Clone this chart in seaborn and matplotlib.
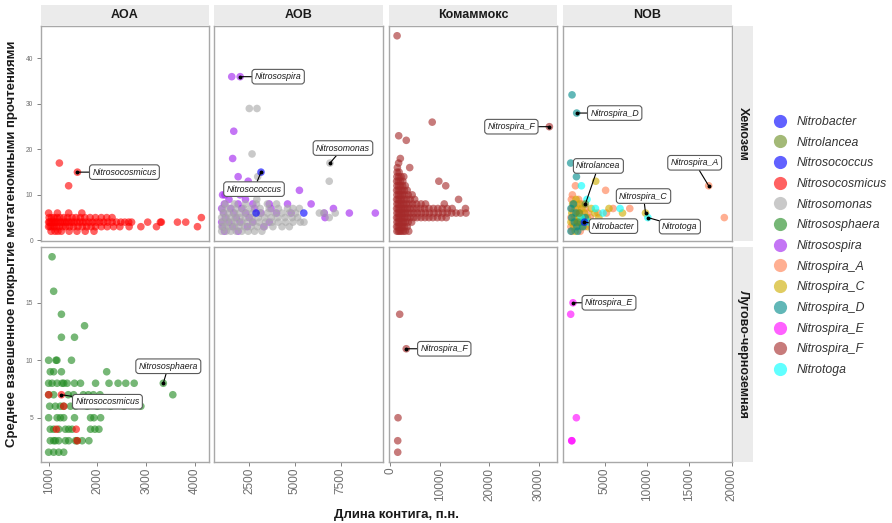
import matplotlib
matplotlib.use("Agg")
import matplotlib.pyplot as plt
import pandas as pd
import seaborn as sns
from matplotlib.lines import Line2D
from matplotlib.patches import Rectangle
from matplotlib.ticker import MultipleLocator, FuncFormatter

sns.set_theme(style="white")
plt.rcParams["font.family"] = ["Liberation Sans", "DejaVu Sans"]

soils = ["Хемозем", "Лугово-черноземная"]
groups = ["AOA", "AOB", "Комаммокс", "NOB"]
genera = ["Nitrobacter", "Nitrolancea", "Nitrosococcus", "Nitrosocosmicus",
          "Nitrosomonas", "Nitrososphaera", "Nitrosospira", "Nitrospira_A",
          "Nitrospira_C", "Nitrospira_D", "Nitrospira_E", "Nitrospira_F", "Nitrotoga"]
genus_colors = ["#0000ff", "#6b8e23", "#0000ff", "#ff0000", "#a9a9a9", "#228b22",
                "#a020f0", "#ff7f50", "#cdad00", "#008b8b", "#ff00ff", "#a52a2a", "#00ffff"]

# contigs: mean coverage -> list of contig lengths (bp)
chem_aoa_nitrosocosmicus = {
    2: [1050, 1130, 1190, 1260, 1420, 1580, 1750, 1930],
    3: [1000, 1030, 1070, 1110, 1160, 1220, 1290, 1350, 1430, 1510, 1600, 1690, 1780,
        1870, 1960, 2080, 2200, 2330, 2460, 2650, 2890, 3210, 4050],
    4: [1000, 1020, 1050, 1090, 1120, 1150, 1190, 1240, 1280, 1330, 1370, 1420, 1470,
        1520, 1580, 1640, 1700, 1760, 1830, 1900, 1980, 2050, 2130, 2210, 2300, 2390,
        2480, 2560, 2640, 2700, 3030, 3290, 3310, 3640, 3810],
    5: [1010, 1060, 1110, 1170, 1230, 1310, 1390, 1480, 1560, 1650, 1740, 1850, 1960,
        2080, 2190, 2300, 4130],
    6: [1000, 1180, 1410, 1680],
    12: [1410], 15: [1590], 17: [1220],
}
chem_aob_nitrosospira = {
    2: [1150, 1900],
    3: [1050, 1600, 2400, 3300],
    4: [1000, 1400, 2000, 2700, 3600],
    5: [1200, 1800, 2500, 6650],
    6: [1100, 1650, 2300, 3150, 4000, 4800, 6610, 7980, 9400],
    7: [1000, 1500, 2100, 2800, 3700, 7110],
    8: [1150, 1900, 2700, 3600, 4600, 5890],
    9: [1400, 2300],
    10: [1050, 1180, 2000],
    11: [5250],
    12: [2200], 13: [2450], 14: [1900], 18: [1600], 24: [1660],
    36: [1550, 2010],
}
chem_aob_nitrosomonas = {
    2: [1000, 1250, 1500, 1800, 2100, 2450, 2800, 3200],
    3: [1000, 1200, 1450, 1700, 1950, 2250, 2600, 2950, 3350, 3800, 4300, 4700],
    4: [1050, 1300, 1550, 1800, 2100, 2400, 2700, 3050, 3400, 3750, 4100, 4500, 4900,
        5300, 5500],
    5: [1000, 1250, 1500, 1750, 2000, 2300, 2650, 3000, 3350, 3700, 4050, 4450, 4850,
        5150, 6880],
    6: [1100, 1400, 1700, 2000, 2350, 2700, 3100, 3500, 3900, 4300, 4700, 5050, 6340,
        6580, 7210],
    7: [1050, 1400, 1800, 2200, 2600, 3100, 3600, 4100, 4600, 4900, 5250],
    8: [1200, 1700, 2300, 2900, 3500, 4000],
    9: [2920], 13: [6880], 14: [2970], 17: [6920], 19: [2660], 29: [2510, 2930],
}
chem_aob_nitrosococcus = {6: [2880, 5490], 15: [3150]}
chem_comammox_nitrospira_f = {
    2: [1300, 1600, 1900, 2200, 2600, 3000, 3700],
    3: [1250, 1550, 1850, 2150, 2450, 2800, 3400],
    4: [1300, 1600, 1900, 2250, 2600, 3000, 3600, 4300],
    5: [1250, 1550, 1850, 2150, 2500, 2900, 3400, 4000, 4700, 5400, 6200, 7000, 7800,
        8600, 9500, 10400, 11300],
    6: [1300, 1600, 1900, 2250, 2600, 3000, 3500, 4100, 4800, 5500, 6300, 7100, 7900,
        8800, 9700, 10600, 11500, 12400, 13300, 14200, 15300],
    7: [1250, 1550, 1850, 2200, 2550, 2950, 3400, 3950, 4600, 5300, 6100, 6900, 7800,
        8700, 9600, 10500, 11500, 12500, 15200],
    8: [1300, 1600, 1950, 2300, 2700, 3200, 3800, 4500, 5300, 6200, 7100, 10900],
    9: [1250, 1550, 1900, 2250, 2700, 3300, 4000, 4900, 13800],
    10: [1300, 1650, 2000, 2400, 2900, 3600, 4400],
    11: [1250, 1600, 1950, 2350, 2800, 3400],
    12: [1300, 1650, 2000, 2450, 3000, 11200],
    13: [1250, 1600, 2000, 2500, 9800],
    14: [1300, 1700, 2150, 2700],
    15: [1350, 1750], 16: [1400, 3900], 17: [1650], 18: [2000],
    22: [3200], 23: [1670], 25: [32200], 26: [8460], 45: [1340],
}
chem_nob_nitrospira_a = {
    2: [1100, 2100], 3: [1000, 1500, 2600, 3400], 4: [1200, 1900, 2800, 4000, 4600],
    5: [1000, 1600, 2400, 3300, 19140], 6: [1300, 2100, 3000, 4200, 5200],
    7: [1100, 1800, 2700, 5990, 7960], 8: [1400, 2300], 9: [1050, 1900],
    10: [1170], 11: [5100], 12: [1530, 17290],
}
chem_nob_nitrospira_c = {
    2: [1500], 3: [1300, 2200, 3000], 4: [1000, 1700, 2500, 3600],
    5: [1400, 2000, 2900, 4300], 6: [1100, 1800, 2600, 3800, 7100, 9820],
    7: [1500, 2300, 3400, 5500], 8: [1200, 2000], 9: [1600], 13: [3930],
}
chem_nob_nitrospira_d = {
    2: [1000, 1800], 3: [1700, 2400], 4: [1400, 2100], 5: [1100, 2700], 6: [1600],
    7: [1000], 8: [1300], 14: [1650], 17: [970], 28: [1680], 32: [1130],
}
chem_nob_nitrotoga = {
    4: [3100], 5: [2200, 10100], 6: [4800], 7: [3900, 6810], 9: [2900], 12: [2240],
}
chem_nob_nitrolancea = {4: [1800], 6: [2000], 8: [2710]}
chem_nob_nitrobacter = {4: [2600]}

meadow_aoa_nitrososphaera = {
    2: [1000, 1103, 1207, 1309],
    3: [1034, 1103, 1138, 1207, 1344, 1412, 1550, 1585, 1687, 1825],
    4: [1034, 1103, 1207, 1344, 1412, 1481, 1859, 1948, 2031],
    5: [1000, 1173, 1241, 1309, 1530, 1859, 1928, 2065],
    6: [1021, 1138, 1241, 1309, 1447, 1550, 1790, 1997, 2272, 2546, 2890],
    7: [1000, 1103, 1402, 1512, 1711, 1814, 1918, 2052, 3545],
    8: [1000, 1070, 1173, 1276, 1309, 1379, 1530, 1653, 1962, 2237, 2423, 2581, 2753, 3350],
    9: [1034, 1103, 1262, 2190],
    10: [1000, 1150, 1170, 1468],
    12: [1262, 1530], 13: [1736], 14: [1262], 16: [1103], 19: [1070],
}
meadow_aoa_nitrosocosmicus = {3: [1585], 4: [1159, 1565], 6: [1309], 7: [1000, 1262]}
meadow_comammox_nitrospira_f = {2: [1470], 3: [1470], 5: [1530], 11: [3200], 14: [1870]}
meadow_nob_nitrospira_e = {3: [1090, 1110], 5: [1640], 14: [970], 15: [1244]}

records = [
    ("Хемозем", "AOA", "Nitrosocosmicus", chem_aoa_nitrosocosmicus),
    ("Хемозем", "AOB", "Nitrosospira", chem_aob_nitrosospira),
    ("Хемозем", "AOB", "Nitrosomonas", chem_aob_nitrosomonas),
    ("Хемозем", "AOB", "Nitrosococcus", chem_aob_nitrosococcus),
    ("Хемозем", "Комаммокс", "Nitrospira_F", chem_comammox_nitrospira_f),
    ("Хемозем", "NOB", "Nitrospira_A", chem_nob_nitrospira_a),
    ("Хемозем", "NOB", "Nitrospira_C", chem_nob_nitrospira_c),
    ("Хемозем", "NOB", "Nitrospira_D", chem_nob_nitrospira_d),
    ("Хемозем", "NOB", "Nitrotoga", chem_nob_nitrotoga),
    ("Хемозем", "NOB", "Nitrolancea", chem_nob_nitrolancea),
    ("Хемозем", "NOB", "Nitrobacter", chem_nob_nitrobacter),
    ("Лугово-черноземная", "AOA", "Nitrososphaera", meadow_aoa_nitrososphaera),
    ("Лугово-черноземная", "AOA", "Nitrosocosmicus", meadow_aoa_nitrosocosmicus),
    ("Лугово-черноземная", "Комаммокс", "Nitrospira_F", meadow_comammox_nitrospira_f),
    ("Лугово-черноземная", "NOB", "Nitrospira_E", meadow_nob_nitrospira_e),
]

# labelled contigs: soil, group, genus, length, coverage
label_soil = ["Хемозем"] * 11 + ["Лугово-черноземная"] * 4
label_group = ["AOA", "AOB", "AOB", "AOB", "Комаммокс", "NOB", "NOB", "NOB", "NOB", "NOB",
               "NOB", "AOA", "AOA", "Комаммокс", "NOB"]
label_genus = ["Nitrosocosmicus", "Nitrosospira", "Nitrosococcus", "Nitrosomonas",
               "Nitrospira_F", "Nitrospira_D", "Nitrolancea", "Nitrospira_A",
               "Nitrospira_C", "Nitrotoga", "Nitrobacter", "Nitrososphaera",
               "Nitrosocosmicus", "Nitrospira_F", "Nitrospira_E"]
label_length = [1590, 2010, 3150, 6920, 32200, 1680, 2710, 17290, 9820, 10100, 2600,
                3350, 1262, 3200, 1244]
label_coverage = [15, 36, 15, 17, 25, 28, 8, 12, 6, 5, 4, 8, 7, 11, 15]

# label box offsets from their points, in pixels (right, up)
label_offsets = [(47, 0), (38, 0), (-7, -17), (13, 15), (-38, 0), (38, 0), (13, 38),
                 (-14, 23), (-2, 17), (32, -9), (29, -4), (5, 17), (46, -7), (38, 0),
                 (36, 0)]

rows = []
for soil, group, genus, table in records:
    for cov, lengths in table.items():
        for length in lengths:
            rows.append({"soil": soil, "group": group, "genus": genus,
                         "length": length, "coverage": cov})
df = pd.DataFrame(rows)
palette = dict(zip(genera, genus_colors))

W, H = 892, 523
col_x = [(41, 209), (214, 383), (389, 557), (563, 732)]
row_y = [(26, 241), (247, 462)]
x_steps = [1000, 2500, 10000, 5000]
y_steps = [10, 5]
ALPHA = 0.62
border = "#a8a8a8"
tick_col = "#6e6e6e"

fig = plt.figure(figsize=(W / 100, H / 100), dpi=100)
axes = {}
for r in range(2):
    for c in range(4):
        x0, x1 = col_x[c]
        y0, y1 = row_y[r]
        ax = fig.add_axes([x0 / W, 1 - y1 / H, (x1 - x0) / W, (y1 - y0) / H],
                          sharex=axes.get((0, c)), sharey=axes.get((r, 0)))
        axes[(r, c)] = ax

for r, soil in enumerate(soils):
    for c, group in enumerate(groups):
        ax = axes[(r, c)]
        sub = df[(df["soil"] == soil) & (df["group"] == group)]
        if len(sub):
            sns.scatterplot(data=sub, x="length", y="coverage", hue="genus",
                            palette=palette, s=30, alpha=ALPHA, linewidth=0,
                            legend=False, ax=ax)
        ax.set_xlabel("")
        ax.set_ylabel("")
        ax.set_facecolor("white")
        for sp in ax.spines.values():
            sp.set_visible(True)
            sp.set_color(border)
            sp.set_linewidth(1.0)
        ax.xaxis.set_major_locator(MultipleLocator(x_steps[c]))
        ax.yaxis.set_major_locator(MultipleLocator(y_steps[r]))
        ax.xaxis.set_major_formatter(FuncFormatter(lambda v, p: f"{v:.0f}"))
        ax.yaxis.set_major_formatter(FuncFormatter(lambda v, p: f"{v:.0f}"))
        ax.tick_params(axis="x", bottom=(r == 1), labelbottom=(r == 1), length=3,
                       width=0.6, color=tick_col, labelsize=8.5, labelcolor=tick_col,
                       labelrotation=90, pad=1.2)
        ax.tick_params(axis="y", left=(c == 0), labelleft=(c == 0), length=3,
                       width=0.6, color=tick_col, labelsize=4.8, labelcolor=tick_col,
                       pad=2.6)
        ax.grid(False)

for ax in axes.values():
    ax.margins(0.05)
    ax.autoscale_view()

# repelled-style labels
for soil, group, genus, lx, ly, (dx, dy) in zip(label_soil, label_group, label_genus,
                                                 label_length, label_coverage, label_offsets):
    ax = axes[(soils.index(soil), groups.index(group))]
    ax.plot([lx], [ly], "o", color="black", ms=1.8, zorder=5)
    ax.annotate(genus, xy=(lx, ly), xytext=(dx, dy), textcoords="offset pixels",
                ha="center", va="center", fontsize=6.3, style="italic", color="#1a1a1a",
                bbox=dict(boxstyle="round,pad=0.32,rounding_size=0.35", fc="white",
                          ec="#5a5a5a", lw=0.8),
                arrowprops=dict(arrowstyle="-", color="black", lw=0.8,
                                shrinkA=0, shrinkB=0),
                zorder=6)

# facet strips
strip_bg = "#ebebeb"
for c, group in enumerate(groups):
    x0, x1 = col_x[c]
    fig.add_artist(Rectangle((x0 / W, 1 - 25 / H), (x1 - x0) / W, 20 / H,
                             transform=fig.transFigure, facecolor=strip_bg,
                             edgecolor="none"))
    fig.text((x0 + x1) / 2 / W, 1 - 15 / H, group, ha="center", va="center",
             fontsize=9, fontweight="bold", color="#1a1a1a")
for r, soil in enumerate(soils):
    y0, y1 = row_y[r]
    fig.add_artist(Rectangle((733 / W, 1 - y1 / H), 20 / W, (y1 - y0) / H,
                             transform=fig.transFigure, facecolor=strip_bg,
                             edgecolor="none"))
    fig.text(743 / W, 1 - (y0 + y1) / 2 / H, soil, ha="center", va="center",
             rotation=-90, fontsize=9, fontweight="bold", color="#1a1a1a")

fig.text(12 / W, 1 - 244 / H, "Среднее взвешенное покрытие метагеномными прочтениями",
         rotation=90, ha="center", va="center", fontsize=9.5, fontweight="bold",
         color="#1a1a1a")
fig.text(397 / W, 1 - 515 / H, "Длина контига, п.н.", ha="center", va="center",
         fontsize=9.5, fontweight="bold", color="#1a1a1a")

handles = [Line2D([], [], marker="o", ls="", markersize=9.5, markerfacecolor=col,
                  markeredgecolor="none", alpha=ALPHA) for col in genus_colors]
fig.legend(handles, genera, loc="upper left", bbox_to_anchor=(772.7 / W, 1 - 116 / H),
           frameon=False, prop=dict(family="Liberation Sans", style="italic", size=8.8),
           labelspacing=0.71, handletextpad=0.79, handlelength=1.2, borderpad=0,
           borderaxespad=0, labelcolor="#333333")

fig.savefig("out.png", dpi=100, facecolor="white")
